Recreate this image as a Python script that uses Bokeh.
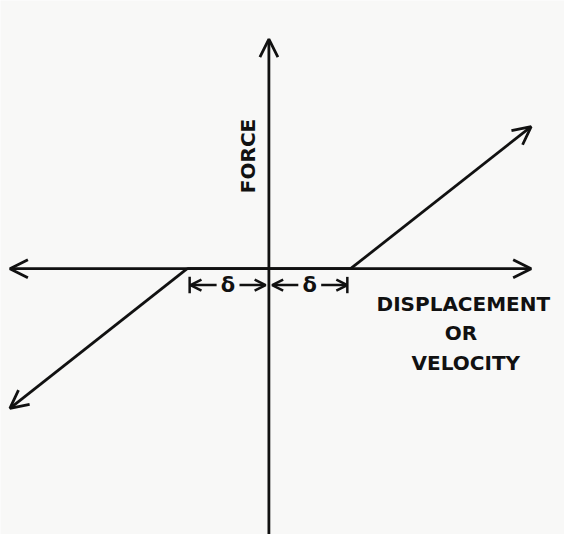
from bokeh.plotting import figure
from bokeh.models import Arrow, OpenHead, Range1d, Label
from bokeh.embed import file_html
from bokeh.resources import INLINE

# --- data (units: dead-zone half width delta = 1) ---
delta = 1.0
curve_x = [-3.17, -1.0, 1.0, 3.21]
curve_y = [-1.71, 0.0, 0.0, 1.74]
x_axis_ends = [-3.17, 3.21]
y_axis_ends = [-3.4, 2.81]
dim_y = -0.20
dim_label = "δ"
x_label_lines = ["DISPLACEMENT", "OR", "VELOCITY"]
y_label = "FORCE"

INK = "#111111"
BG = "#f8f8f7"
LW = 2.8
FONT = "DejaVu Sans"

W, H = 564, 534
scale = 81.7
ox, oy = 268.4, 268.2  # origin in plot pixels
p = figure(width=W, height=H, output_backend="svg", toolbar_location=None,
           x_range=Range1d(-ox / scale, (W - ox) / scale),
           y_range=Range1d(-(H - oy) / scale, oy / scale),
           min_border=0, min_border_left=0, min_border_right=0,
           min_border_top=0, min_border_bottom=0)
p.axis.visible = False
p.grid.visible = False
p.outline_line_color = None
p.background_fill_color = BG
p.border_fill_color = BG

def arrow(x0, y0, x1, y1, start=False, end=True, size=14, lw=LW):
    p.add_layout(Arrow(x_start=x0, y_start=y0, x_end=x1, y_end=y1,
                       line_color=INK, line_width=lw,
                       start=OpenHead(size=size, line_color=INK, line_width=lw) if start else None,
                       end=OpenHead(size=size, line_color=INK, line_width=lw) if end else None))

# axes
arrow(x_axis_ends[0], 0, x_axis_ends[1], 0, start=True, end=True, size=18)
arrow(0, y_axis_ends[0], 0, y_axis_ends[1], start=False, end=True, size=18)

# dead-zone characteristic
p.line(curve_x[1:3], curve_y[1:3], line_color=INK, line_width=LW)
arrow(curve_x[1], curve_y[1], curve_x[0], curve_y[0], size=18)
arrow(curve_x[2], curve_y[2], curve_x[3], curve_y[3], size=18)

# dimension arrows
gap = 0.14
for a, b in [(-delta, 0.0), (0.0, delta)]:
    m = (a + b) / 2
    arrow(m - gap, dim_y, a + 0.04, dim_y, size=11, lw=2.5)
    arrow(m + gap, dim_y, b - 0.04, dim_y, size=11, lw=2.5)
    p.add_layout(Label(x=m, y=dim_y, text=dim_label, text_font=FONT, text_font_size="21px",
                       text_font_style="bold", text_color=INK,
                       text_align="center", text_baseline="middle"))
p.segment(x0=[-delta + 0.03, delta - 0.04], y0=[dim_y - 0.10] * 2,
          x1=[-delta + 0.03, delta - 0.04], y1=[dim_y + 0.10] * 2,
          line_color=INK, line_width=2.5)

# labels
line_y = [-0.43, -0.79, -1.15]
line_x = [2.38, 2.35, 2.41]
for t, lx, ly in zip(x_label_lines, line_x, line_y):
    p.add_layout(Label(x=lx, y=ly, text=t, text_font=FONT, text_font_size="20px",
                       text_font_style="bold", text_color=INK,
                       text_align="center", text_baseline="middle"))
p.add_layout(Label(x=-0.26, y=1.38, text=y_label, text_font=FONT, text_font_size="20px",
                   text_font_style="bold", text_color=INK,
                   text_align="center", text_baseline="middle", angle=1.5708))

open("out.html", "w").write(file_html(p, INLINE))
